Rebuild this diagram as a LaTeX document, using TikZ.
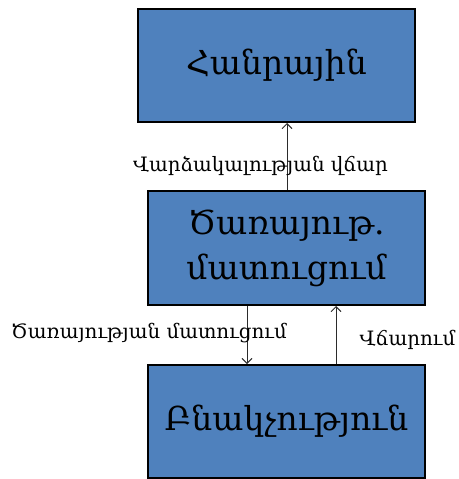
\documentclass[tikz,border=0pt]{standalone}
\usepackage{fontspec}
\setmainfont{DejaVu Serif}
\usetikzlibrary{arrows.meta}
\definecolor{boxblue}{HTML}{4F81BD}
\definecolor{linegray}{HTML}{2B2B2B}
\tikzset{
  box/.style={draw=black, line width=2pt, fill=boxblue, minimum width=277pt, minimum height=113pt, inner sep=0pt, align=center, font=\fontsize{33}{45}\selectfont},
  conn/.style={draw=linegray, line width=0.9pt, -{Straight Barb[length=5pt,width=10pt]}},
  lbl/.style={inner sep=0pt, font=\fontsize{19.8}{22}\selectfont},
}
\begin{document}
\begin{tikzpicture}[x=1pt,y=1pt]
\useasboundingbox (0,0) rectangle (458,-479);
\node[box] (top) at (276.5,-65.5) {Հանրային};
\node[box, minimum height=114pt] (mid) at (286.5,-248) {Ծառայութ.\\մատուցում};
\node[box] (bot) at (286.5,-421.5) {Բնակչություն};
\draw[conn] (mid.north -| top.south) ++(10.5,0) coordinate (a1) -- (a1 |- top.south);
\draw[conn] (mid.south) ++(-39.5,0) coordinate (a2) -- (a2 |- bot.north);
\draw[conn] (bot.north) ++(49.5,0) coordinate (a3) -- (a3 |- mid.south);
\node[lbl] (l1) at (260.5,-166) {Վարձակալության վճար};
\node[lbl] (l2) at (149,-333) {Ծառայության մատուցում};
\node[lbl] (l3) at (407.5,-340) {Վճարում};
\end{tikzpicture}
\end{document}
